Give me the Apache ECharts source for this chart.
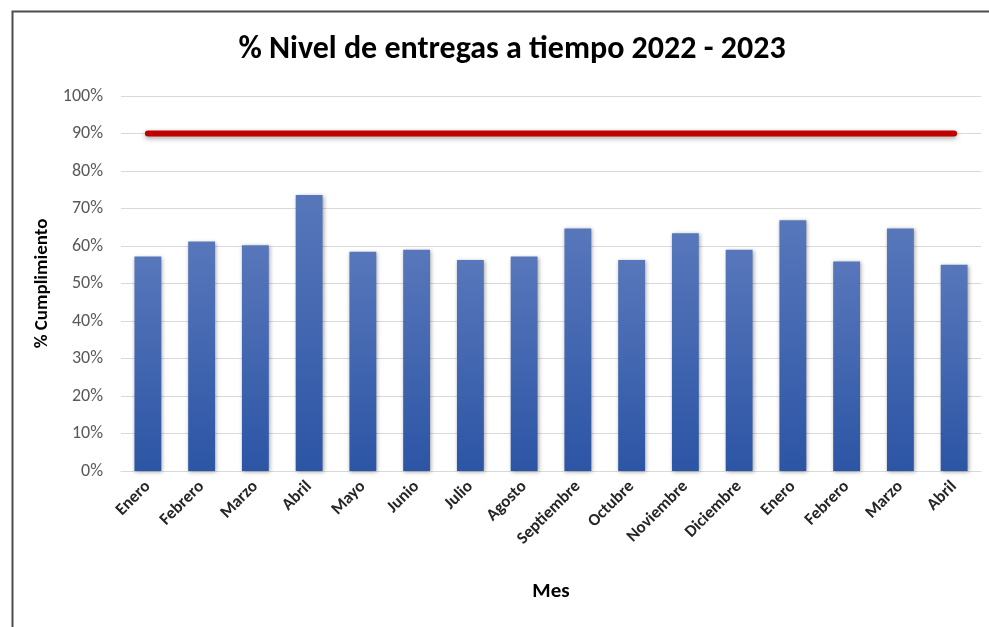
<!DOCTYPE html>
<html>
<head>
<meta charset="utf-8">
<title>% Nivel de entregas a tiempo 2022 - 2023</title>
<script src="https://cdn.jsdelivr.net/npm/echarts@6/dist/echarts.min.js"></script>
<style>
  html, body { margin: 0; padding: 0; background: #fff; }
  #chart { width: 989px; height: 627px; }
</style>
</head>
<body>
<div id="chart"></div>
<script>
// meses 2022 - 2023
var meses = ['Enero', 'Febrero', 'Marzo', 'Abril', 'Mayo', 'Junio', 'Julio', 'Agosto',
  'Septiembre', 'Octubre', 'Noviembre', 'Diciembre', 'Enero', 'Febrero', 'Marzo', 'Abril']
// % cumplimiento por mes
var cumplimiento = [57.2, 61.2, 60.2, 73.6, 58.5, 59.0, 56.3, 57.2,
  64.7, 56.3, 63.4, 59.0, 66.9, 55.9, 64.7, 55.0]
// meta 90%
var meta = [90, 90, 90, 90, 90, 90, 90, 90, 90, 90, 90, 90, 90, 90, 90, 90]
var ticksY = [0, 100, 10] // min, max, intervalo

var font = "Carlito, 'Open Sans', sans-serif"
var chart = echarts.init(document.getElementById('chart'))

chart.setOption({
  animation: false,
  title: {
    text: '% Nivel de entregas a tiempo 2022 - 2023',
    left: 507,
    textAlign: 'center',
    top: 29,
    textStyle: { fontFamily: font, fontSize: 32, fontWeight: 'bold', color: '#000' }
  },
  grid: { left: 121, right: 8, top: 96, bottom: 156 },
  xAxis: {
    type: 'category',
    data: meses,
    name: 'Mes',
    nameLocation: 'middle',
    nameGap: 110,
    nameTextStyle: { fontFamily: font, fontSize: 21, fontWeight: 'bold', color: '#000' },
    axisLine: { lineStyle: { color: '#d9d9d9' } },
    axisTick: { show: false },
    axisLabel: {
      interval: 0,
      rotate: 45,
      margin: 13,
      fontFamily: font,
      fontSize: 17,
      fontWeight: 'bold',
      color: '#262626'
    }
  },
  yAxis: {
    type: 'value',
    min: ticksY[0],
    max: ticksY[1],
    interval: ticksY[2],
    name: '% Cumplimiento',
    nameLocation: 'middle',
    nameGap: 69,
    nameRotate: 90,
    nameTextStyle: { fontFamily: font, fontSize: 19, fontWeight: 'bold', color: '#000' },
    axisLine: { show: false },
    axisTick: { show: false },
    axisLabel: {
      formatter: '{value}%',
      margin: 18,
      fontFamily: font,
      fontSize: 18,
      color: '#595959'
    },
    splitLine: { lineStyle: { color: '#d9d9d9', width: 1 } }
  },
  series: [
    {
      name: '% Cumplimiento',
      type: 'bar',
      data: cumplimiento,
      barWidth: '50%',
      itemStyle: {
        color: new echarts.graphic.LinearGradient(0, 0, 0, 1, [
          { offset: 0, color: '#5877bb' },
          { offset: 1, color: '#2c55a5' }
        ]),
        shadowColor: 'rgba(0,0,0,0.35)',
        shadowBlur: 4,
        shadowOffsetX: 1,
        shadowOffsetY: 1
      }
    },
    {
      name: 'Meta',
      type: 'line',
      data: meta,
      symbol: 'none',
      lineStyle: {
        color: '#c00000',
        width: 6,
        cap: 'round',
        shadowColor: 'rgba(0,0,0,0.35)',
        shadowBlur: 5,
        shadowOffsetY: 2
      },
      z: 5
    }
  ],
  graphic: [
    {
      type: 'rect',
      left: 10,
      top: 9,
      shape: { width: 1200, height: 900 },
      style: { fill: 'none', stroke: '#4d4d4d', lineWidth: 2 },
      silent: true
    }
  ]
})
</script>
</body>
</html>
